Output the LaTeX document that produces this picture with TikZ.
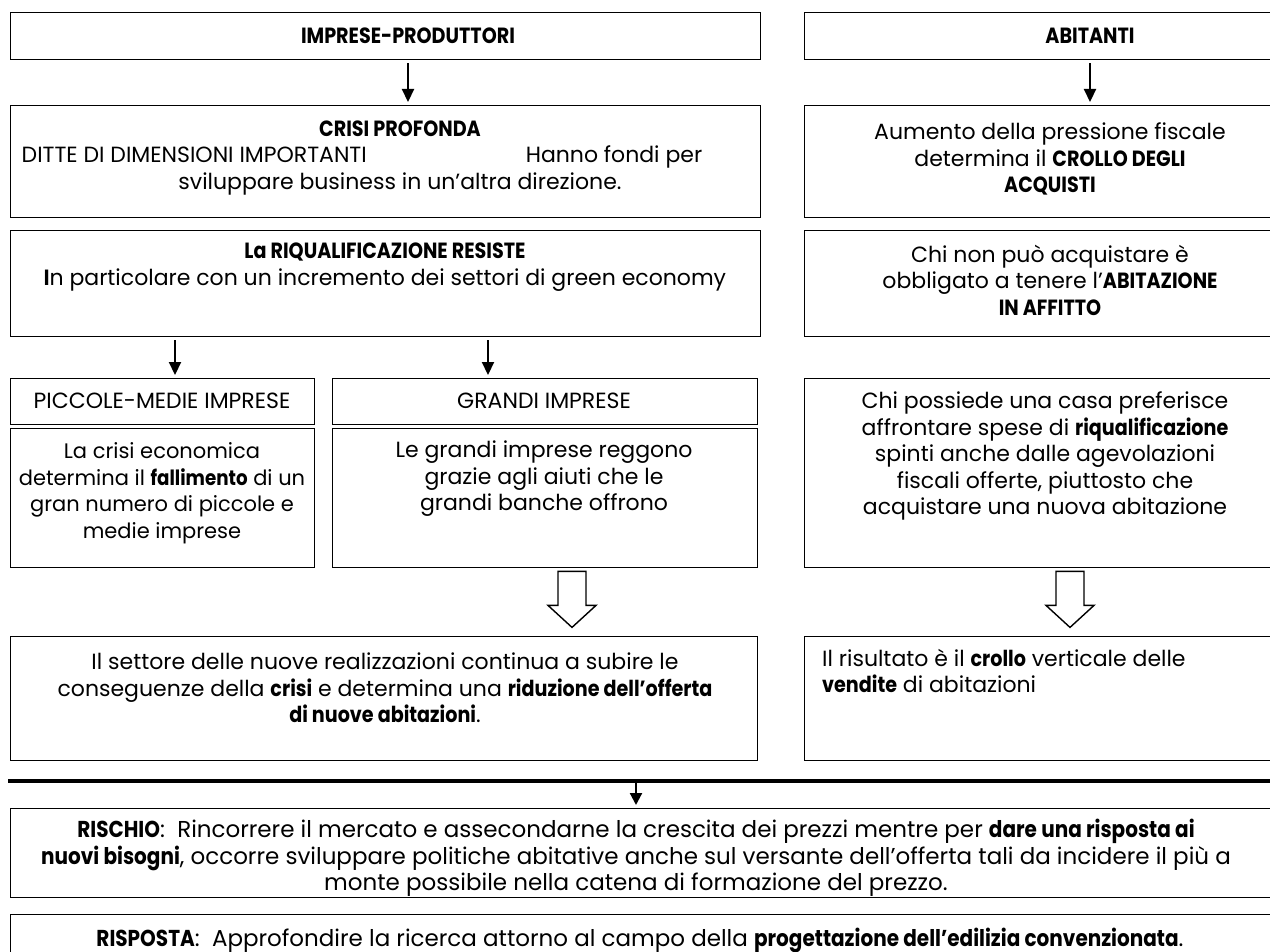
\documentclass[tikz,border=0pt]{standalone}
\usepackage{fontspec}
\setmainfont{Poppins}[BoldFeatures={FakeStretch=0.87}]
\usetikzlibrary{calc,arrows.meta}
\begin{document}
\begin{tikzpicture}[x=1pt,y=-1pt,
  box/.style={draw, line width=1.4pt, anchor=north west, inner sep=0pt},
  txt/.style={font=\fontsize{22}{26.5}\selectfont, align=center, inner sep=0pt},
  txtn/.style={font=\fontsize{21}{26.5}\selectfont, align=center, inner sep=0pt},
  txtl/.style={font=\fontsize{22}{26.5}\selectfont, align=left, inner sep=0pt, anchor=north west},
  txtw/.style={font=\fontsize{23}{26.5}\selectfont, align=center, inner sep=0pt},
  arr/.style={line width=2.2pt, -{Triangle[length=13pt,width=12pt]}, shorten <=3pt, shorten >=3pt},
  hollowarrow/.pic={\draw[line width=1.4pt, fill=white, line join=miter]
     (-14,0) -- (14,0) -- (14,34) -- (24,34) -- (0,56) -- (-24,34) -- (-14,34) -- cycle;},
]
\useasboundingbox (0,0) rectangle (1270,952);

% ---- boxes ----
\node[box, minimum width=750pt, minimum height=47pt]  (imp)   at (10,12) {};
\node[box, minimum width=480pt, minimum height=47pt]  (abi)   at (804,12) {};
\node[box, minimum width=750pt, minimum height=112pt] (crisi) at (10,105) {};
\node[box, minimum width=480pt, minimum height=112pt] (aum)   at (804,105) {};
\node[box, minimum width=750pt, minimum height=106pt] (riq)   at (10,230) {};
\node[box, minimum width=480pt, minimum height=106pt] (chin)  at (804,230) {};
\node[box, minimum width=304pt, minimum height=46pt]  (pm)    at (10,378) {};
\node[box, minimum width=425pt, minimum height=46pt]  (gr)    at (332,378) {};
\node[box, minimum width=304pt, minimum height=139pt] (pmt)   at (10,428) {};
\node[box, minimum width=425pt, minimum height=139pt] (grt)   at (332,428) {};
\node[box, minimum width=480pt, minimum height=189pt] (chip)  at (804,378) {};
\node[box, minimum width=747pt, minimum height=124pt] (sett)  at (10,636) {};
\node[box, minimum width=480pt, minimum height=124pt] (ris)   at (804,636) {};
\node[box, minimum width=1280pt, minimum height=89pt] (risc)  at (10,808) {};
\node[box, minimum width=1280pt, minimum height=80pt] (risp)  at (10,914) {};

% ---- texts ----
\node[txt] (timp) at (408,36) {\textbf{IMPRESE-PRODUTTORI}};
\node[txt] (tabi) at (1090,36) {\textbf{ABITANTI}};

\node[txt] (tcrisi) at (400,158) {\textbf{CRISI PROFONDA}\\
  \hspace*{-76pt}DITTE DI DIMENSIONI IMPORTANTI\hspace{159pt}Hanno fondi per\\
  sviluppare business in un'altra direzione.};
\node[txt] (taum) at (1050,159) {Aumento della pressione fiscale\\
  determina il \textbf{CROLLO DEGLI}\\ \textbf{ACQUISTI}};

\node[txt] (triq) at (385,267) {\textbf{La RIQUALIFICAZIONE RESISTE}\\
  \textbf{I}n particolare con un incremento dei settori di green economy};
\node[txt] (tchin) at (1050,280) {Chi non può acquistare è\\
  obbligato a tenere l’\textbf{ABITAZIONE}\\ \textbf{IN AFFITTO}};

\node[txt] (tpm) at (162,401) {PICCOLE-MEDIE IMPRESE};
\node[txt] (tgr) at (544,401) {GRANDI IMPRESE};

\node[txtn] (tpmt) at (162,493) {La crisi economica\\
  determina il \textbf{fallimento} di un\\ gran numero di piccole e\\ medie imprese};
\node[txt] (tgrt) at (544,479) {Le grandi imprese reggono\\
  grazie agli aiuti che le\\ grandi banche offrono};
\node[txt] (tchip) at (1045,456) {Chi possiede una casa preferisce\\
  affrontare spese di \textbf{riqualificazione}\\ spinti anche dalle agevolazioni\\
  fiscali offerte, piuttosto che\\ acquistare una nuova abitazione};

\node[txt] (tsett) at (385,688) {Il settore delle nuove realizzazioni continua a subire le\\
  conseguenze della \textbf{crisi} e determina una \textbf{riduzione dell’offerta}\\
  \textbf{di nuove abitazioni}.};
\node[txtl] (tris) at (822,649) {Il risultato è il \textbf{crollo} verticale delle\\
  \textbf{vendite} di abitazioni};

\node[txtw] (trisc) at (636,858) {\textbf{RISCHIO}:\ \ Rincorrere il mercato e assecondarne la crescita dei prezzi mentre per \textbf{dare una risposta ai}\\
  \textbf{nuovi bisogni}, occorre sviluppare politiche abitative anche sul versante dell’offerta tali da incidere il più a\\
  monte possibile nella catena di formazione del prezzo.};
\node[txtw] (trisp) at (640,940) {\textbf{RISPOSTA}:\ \ Approfondire la ricerca attorno al campo della \textbf{progettazione dell’edilizia convenzionata}.};

% ---- connectors ----
\draw[arr] (timp |- imp.south) -- (timp |- crisi.north);
\draw[arr] (tabi |- abi.south) -- (tabi |- aum.north);
\coordinate (xa) at (175,0);
\coordinate (xb) at (488,0);
\draw[arr] (xa |- riq.south) -- (xa |- pm.north);
\draw[arr] (xb |- riq.south) -- (xb |- gr.north);

\coordinate (xh1) at (572,0);
\coordinate (xh2) at (1070,0);
\pic at ($(xh1 |- grt.south)+(0,3)$) {hollowarrow};
\pic at ($(xh2 |- chip.south)+(0,3)$) {hollowarrow};

% heavy divider and the arrow leading to the final boxes
\coordinate (barL) at (8,781);
\coordinate (barR) at (1280,781);
\draw[line width=4pt] (barL) -- (barR);
\coordinate (xc) at (636,0);
\draw[line width=2.2pt, -{Triangle[length=12pt,width=12pt]}, shorten <=2pt, shorten >=3pt]
  (xc |- barL) -- (xc |- risc.north);
\end{tikzpicture}
\end{document}
